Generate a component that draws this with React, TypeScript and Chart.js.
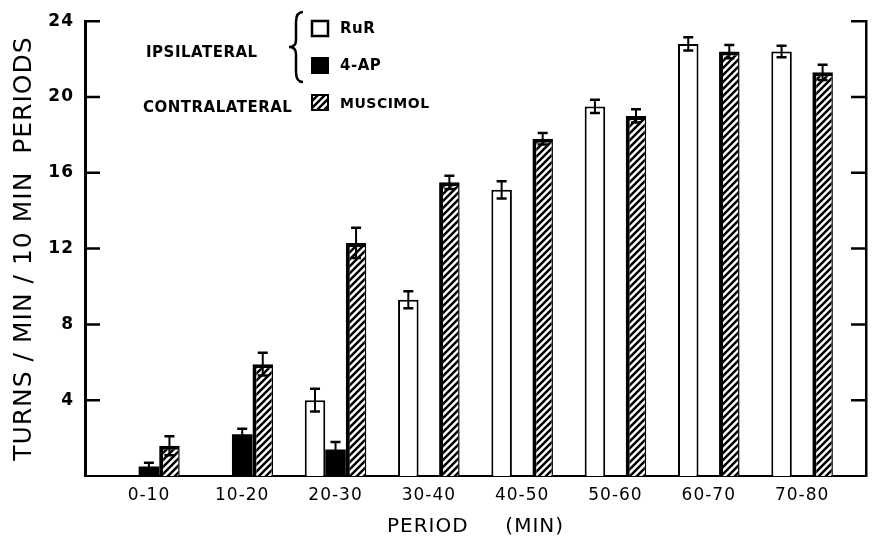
import React, { useEffect, useRef } from 'react';
import { Chart, registerables } from 'chart.js';

Chart.register(...registerables);

// ---- data ----
const periods = ['0-10', '10-20', '20-30', '30-40', '40-50', '50-60', '60-70', '70-80'];
const rurValues: (number | null)[] = [null, null, 4.0, 9.3, 15.1, 19.5, 22.8, 22.4];
const rurErrors: (number | null)[] = [null, null, 0.6, 0.45, 0.45, 0.35, 0.35, 0.3];
const apValues: (number | null)[] = [0.5, 2.2, 1.4, null, null, null, null, null];
const apErrors: (number | null)[] = [0.2, 0.3, 0.4, null, null, null, null, null];
const muscimolValues: (number | null)[] = [1.6, 5.9, 12.3, 15.5, 17.8, 19.0, 22.4, 21.3];
const muscimolErrors: (number | null)[] = [0.5, 0.6, 0.8, 0.35, 0.3, 0.35, 0.35, 0.4];
const yTicks = [0, 4, 8, 12, 16, 20, 24];
const errorSets = [rurErrors, apErrors, muscimolErrors];

const FONT = 'DejaVu Sans';

function makeHatch(): CanvasPattern | string {
  const size = 7;
  const c = document.createElement('canvas');
  c.width = size;
  c.height = size;
  const g = c.getContext('2d');
  if (!g) return '#777';
  g.fillStyle = '#fff';
  g.fillRect(0, 0, size, size);
  g.strokeStyle = '#000';
  g.lineWidth = 2.5;
  g.beginPath();
  g.moveTo(-1, size + 1);
  g.lineTo(size + 1, -1);
  g.moveTo(-2, 2);
  g.lineTo(2, -2);
  g.moveTo(size - 2, size + 2);
  g.lineTo(size + 2, size - 2);
  g.stroke();
  return g.createPattern(c, 'repeat') || '#777';
}

const toPoints = (vals: (number | null)[]) => vals.map((v, i) => ({ x: i, y: v }));

export default function App() {
  const ref = useRef<HTMLCanvasElement | null>(null);

  useEffect(() => {
    const canvas = ref.current;
    if (!canvas) return;
    const hatch = makeHatch();

    const setSpacing = (chart: any, v: string) => {
      try { (chart.ctx as any).letterSpacing = v; } catch (e) { /* ignore */ }
    };

    const decorPlugin = {
      id: 'decor',
      beforeUpdate(chart: any) { setSpacing(chart, '1px'); },
      beforeDraw(chart: any) {
        const ctx = chart.ctx;
        ctx.save();
        ctx.fillStyle = '#fff';
        ctx.fillRect(0, 0, chart.width, chart.height);
        ctx.restore();
        setSpacing(chart, '1px');
      },
      afterDatasetsDraw(chart: any) {
        const ctx = chart.ctx;
        const ys = chart.scales.y;
        ctx.save();
        ctx.strokeStyle = '#000';
        errorSets.forEach((errs, d) => {
          const meta = chart.getDatasetMeta(d);
          const vals = chart.data.datasets[d].data;
          errs.forEach((e, j) => {
            const p = vals[j];
            if (e == null || p == null || p.y == null) return;
            const el = meta.data[j];
            if (!el) return;
            const x = el.x;
            const yt = ys.getPixelForValue(p.y + e);
            const yb = ys.getPixelForValue(p.y - e);
            ctx.lineWidth = 2;
            ctx.beginPath();
            ctx.moveTo(x, yt);
            ctx.lineTo(x, yb);
            ctx.stroke();
            ctx.lineWidth = 2.5;
            ctx.beginPath();
            ctx.moveTo(x - 5, yt);
            ctx.lineTo(x + 5, yt);
            ctx.moveTo(x - 5, yb);
            ctx.lineTo(x + 5, yb);
            ctx.stroke();
          });
        });
        ctx.restore();
      },
      afterDraw(chart: any) {
        const ctx = chart.ctx;
        const ys = chart.scales.y;
        const { left, right } = chart.chartArea;
        ctx.save();
        ctx.strokeStyle = '#000';
        ctx.lineWidth = 2.5;
        ctx.beginPath();
        yTicks.forEach((v) => {
          if (v === 0) return;
          const py = ys.getPixelForValue(v);
          ctx.moveTo(left, py);
          ctx.lineTo(left + 15, py);
          ctx.moveTo(right - 15, py);
          ctx.lineTo(right, py);
        });
        ctx.stroke();

        // legend
        ctx.fillStyle = '#000';
        ctx.textBaseline = 'middle';
        ctx.textAlign = 'left';
        ctx.font = `bold 15px "${FONT}"`;
        try { ctx.letterSpacing = '0.5px'; } catch (e) { /* ignore */ }
        ctx.fillText('IPSILATERAL', 146, 53);
        ctx.fillText('CONTRALATERAL', 143, 108);
        ctx.fillText('RuR', 340, 29);
        ctx.fillText('4-AP', 340, 66);
        ctx.font = `bold 14px "${FONT}"`;
        ctx.fillText('MUSCIMOL', 340, 104);

        // brace
        ctx.lineWidth = 2.5;
        ctx.beginPath();
        ctx.moveTo(303, 12);
        ctx.quadraticCurveTo(296, 12, 296, 22);
        ctx.lineTo(296, 40);
        ctx.quadraticCurveTo(296, 47, 289, 47);
        ctx.quadraticCurveTo(296, 47, 296, 54);
        ctx.lineTo(296, 72);
        ctx.quadraticCurveTo(296, 82, 303, 82);
        ctx.stroke();

        // boxes
        ctx.fillStyle = '#fff';
        ctx.fillRect(312, 21, 16, 15);
        ctx.lineWidth = 2.5;
        ctx.strokeRect(312, 21, 16, 15);
        ctx.fillStyle = '#000';
        ctx.fillRect(311, 57, 18, 17);
        ctx.fillStyle = hatch as any;
        ctx.fillRect(312, 95, 16, 15);
        ctx.lineWidth = 2;
        ctx.strokeRect(312, 95, 16, 15);
        ctx.restore();
      },
    };

    const chart = new Chart(canvas, {
      type: 'bar',
      data: {
        datasets: [
          {
            label: 'RuR',
            data: toPoints(rurValues) as any,
            backgroundColor: '#fff',
            borderColor: '#000',
            borderWidth: 2,
          },
          {
            label: '4-AP',
            data: toPoints(apValues) as any,
            backgroundColor: '#000',
            borderColor: '#000',
            borderWidth: 0,
          },
          {
            label: 'MUSCIMOL',
            data: toPoints(muscimolValues) as any,
            backgroundColor: hatch as any,
            borderColor: '#000',
            borderWidth: { left: 4, top: 4, right: 1.5, bottom: 0 } as any,
          },
        ],
      },
      options: {
        responsive: false,
        animation: false,
        devicePixelRatio: 1,
        categoryPercentage: 0.66,
        barPercentage: 1.0,
        layout: { padding: { top: 19.5, left: 0, right: 0, bottom: 0 } },
        plugins: {
          legend: { display: false },
          tooltip: { enabled: false },
        },
        scales: {
          x: {
            type: 'linear',
            min: -0.685,
            max: 7.685,
            offset: false,
            grid: { display: false, drawTicks: false },
            border: { display: true, width: 2, color: '#000' },
            afterBuildTicks: (s: any) => {
              s.ticks = periods.map((_, i) => ({ value: i }));
            },
            afterFit: (s: any) => { s.height = 67; },
            ticks: {
              autoSkip: false,
              maxRotation: 0,
              padding: 9,
              color: '#000',
              font: { family: FONT, size: 17 },
              callback: (v: any) => periods[Math.round(Number(v))] ?? '',
            },
            title: {
              display: true,
              text: 'PERIOD     (MIN)',
              color: '#000',
              font: { family: FONT, size: 20 },
              padding: { bottom: 4, top: 0 },
            },
          },
          y: {
            position: 'left',
            min: 0,
            max: 24,
            grid: { display: false, drawTicks: false },
            border: { display: true, width: 3, color: '#000' },
            afterBuildTicks: (s: any) => {
              s.ticks = yTicks.map((v) => ({ value: v }));
            },
            afterFit: (s: any) => { s.width = 85; },
            ticks: {
              padding: 11,
              color: '#000',
              font: { family: FONT, size: 17, weight: 'bold' },
              callback: (v: any) => (Number(v) === 0 ? '' : String(v)),
            },
            title: {
              display: true,
              text: 'TURNS / MIN / 10 MIN  PERIODS',
              color: '#000',
              font: { family: FONT, size: 25 },
              padding: { top: 9, bottom: 0 },
            },
          },
          y2: {
            position: 'right',
            min: 0,
            max: 24,
            grid: { display: false, drawTicks: false },
            border: { display: true, width: 2.5, color: '#000' },
            ticks: { display: false },
            afterFit: (s: any) => { s.width = 6; },
          },
        },
      } as any,
      plugins: [decorPlugin],
    });

    return () => chart.destroy();
  }, []);

  return (
    <div style={{ position: 'absolute', left: 0, top: 0, width: 872, height: 543, background: '#fff' }}>
      <canvas ref={ref} width={872} height={543} style={{ display: 'block' }} />
    </div>
  );
}
